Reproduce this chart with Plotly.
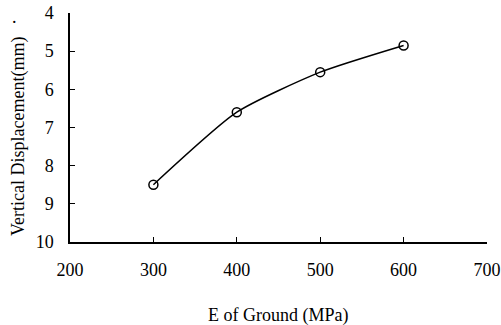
import plotly.graph_objects as go

e_ground = [300, 400, 500, 600]
displacement = [8.5, 6.6, 5.55, 4.85]
x_ticks = [200, 300, 400, 500, 600, 700]
y_ticks = [4, 5, 6, 7, 8, 9, 10]

font = "Liberation Serif"
tf = dict(family=font, size=18, color="black")

L, R, T, B = 70, 14, 13, 83
W, H = 501, 325
pw, ph = W - L - R, H - T - B

fig = go.Figure()
fig.add_trace(go.Scatter(
    x=e_ground, y=displacement, mode="lines+markers",
    line=dict(color="black", width=1.5, shape="spline", smoothing=0.6),
    marker=dict(symbol="circle-open", size=9, color="black", line=dict(width=1.5)),
    showlegend=False,
))

fig.update_layout(
    width=W, height=H,
    margin=dict(l=L, r=R, t=T, b=B),
    paper_bgcolor="white", plot_bgcolor="white",
    font=tf,
    xaxis=dict(
        range=[200, 700], tickvals=x_ticks, ticks="inside", ticklen=5,
        tickcolor="black", showline=True, linecolor="black", linewidth=1.5,
        showgrid=False, zeroline=False, ticklabelstandoff=11, tickfont=tf,
        automargin=False,
    ),
    yaxis=dict(
        range=[10, 4], tickvals=y_ticks, ticks="inside", ticklen=5,
        tickcolor="black", showline=True, linecolor="black", linewidth=1.5,
        showgrid=False, zeroline=False, ticklabelstandoff=11, tickfont=tf,
        automargin=False,
    ),
)

def px_to_paper(xp, yp):
    return (xp - L) / pw, 1 - (yp - T) / ph

tx, ty = px_to_paper(278, 315)
fig.add_annotation(x=tx, y=ty, xref="paper", yref="paper",
                   text="E of Ground (MPa)", showarrow=False, font=tf,
                   xanchor="center", yanchor="middle")
ax, ay = px_to_paper(18, 137)
fig.add_annotation(x=ax, y=ay, xref="paper", yref="paper",
                   text="Vertical Displacement(mm)", textangle=-90,
                   showarrow=False, font=tf,
                   xanchor="center", yanchor="middle")
dx, dy = px_to_paper(14, 17)
fig.add_annotation(x=dx, y=dy, xref="paper", yref="paper", text=".",
                   showarrow=False, font=tf,
                   xanchor="center", yanchor="middle")
fig.write_html("out.html")
